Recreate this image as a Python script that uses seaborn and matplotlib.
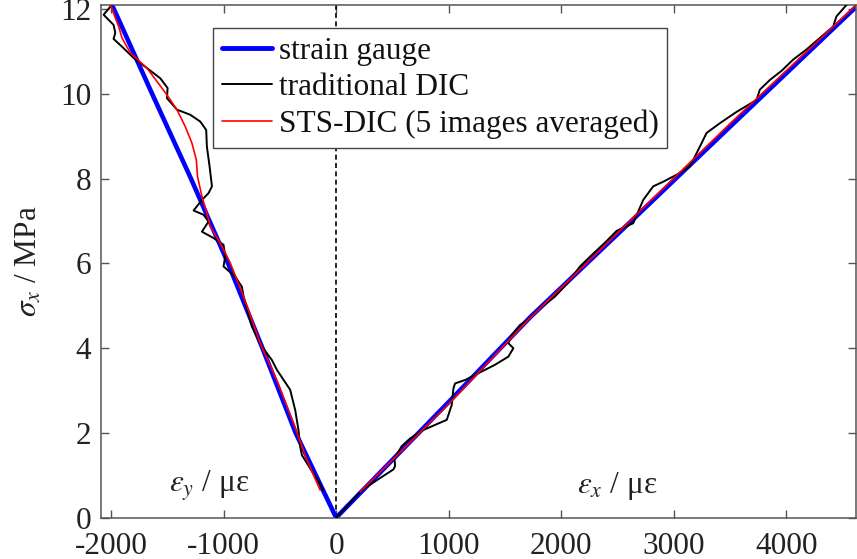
import matplotlib
matplotlib.use("Agg")
import matplotlib.pyplot as plt
import seaborn as sns
import pandas as pd
from matplotlib.lines import Line2D

# ---------------- data ----------------
# strain gauge
sg_left_eps = [0, -360, -655, -960, -1290, -1635, -2000]
sg_left_sig = [0, 2, 4, 6, 8, 10, 12.15]
sg_right_eps = [0, 1000, 1720, 2500, 3470, 4650]
sg_right_sig = [0, 2.73, 4.72, 6.69, 9.15, 12.13]

# traditional DIC
dic_left_eps = [-1992, -2067, -1978, -1963, -1978, -1889, -1800, -1681, -1563, -1498,
                -1504, -1415, -1297, -1208, -1155, -1149, -1125, -1104, -1134, -1193,
                -1267, -1179, -1134, -1193, -1090, -1001, -986, -1001, -897, -838,
                -823, -749, -660, -571, -527, -409, -364, -335, -320, -305, -186, -113]
dic_left_sig = [12.11, 11.87, 11.63, 11.44, 11.30, 11.08, 10.85, 10.61, 10.37, 10.14,
                9.90, 9.63, 9.51, 9.35, 9.15, 8.76, 8.29, 7.82, 7.66, 7.50,
                7.25, 7.15, 6.99, 6.75, 6.60, 6.44, 6.16, 5.93, 5.69, 5.45,
                5.22, 4.51, 4.04, 3.72, 3.49, 3.02, 2.54, 2.07, 1.68, 1.48, 0.97, 0.65]
dic_right_eps = [0, 228, 376, 509, 524, 518, 583, 657, 775, 879, 983, 1027, 1042, 1057,
                 1146, 1264, 1412, 1530, 1575, 1530, 1560, 1634, 1708, 1800, 1945, 2060,
                 2167, 2256, 2400, 2493, 2640, 2729, 2818, 2907, 3030, 3144, 3233, 3292,
                 3410, 3560, 3736, 3765, 3854, 3960, 4061, 4180, 4298, 4417, 4446, 4535, 4600]
dic_right_sig = [0, 0.65, 0.91, 1.14, 1.22, 1.40, 1.69, 1.87, 2.07, 2.19, 2.31, 2.66, 3.05, 3.17,
                 3.25, 3.41, 3.61, 3.80, 4.00, 4.12, 4.31, 4.55, 4.67, 4.92, 5.22, 5.55,
                 5.93, 6.16, 6.52, 6.77, 6.95, 7.50, 7.82, 7.93, 8.10, 8.29, 8.76, 9.08,
                 9.31, 9.58, 9.86, 10.10, 10.33, 10.55, 10.81, 11.05, 11.32, 11.59, 11.83, 12.10, 12.25]

# STS-DIC (5 images averaged)
sts_left_eps = [-2007, -1933, -1903, -1829, -1681, -1504, -1415, -1341, -1282, -1243, -1232,
                -1193, -1149, -1119, -1030, -941, -823, -675, -520, -379, -260, -142]
sts_left_sig = [12.11, 11.59, 11.32, 10.97, 10.61, 9.98, 9.63, 9.23, 8.84, 8.45, 8.05,
                7.58, 7.19, 6.87, 6.48, 6.01, 5.22, 4.12, 3.20, 2.23, 1.36, 0.65]
sts_right_eps = [213, 1000, 1708, 2500, 3500, 4630]
sts_right_sig = [0.61, 2.68, 4.67, 6.72, 9.30, 12.12]

x_ticks = [-2000, -1000, 0, 1000, 2000, 3000, 4000]
y_ticks = [0, 2, 4, 6, 8, 10, 12]
legend_labels = ["strain gauge", "traditional DIC", "STS-DIC (5 images averaged)"]

# ---------------- style ----------------
sns.set_theme(style="ticks")
plt.rcParams["font.family"] = ["Liberation Serif", "DejaVu Serif"]
plt.rcParams["mathtext.fontset"] = "stix"
plt.rcParams["axes.unicode_minus"] = False

FS = 22.5
BLUE = "#0000ff"
RED = "#ff0000"
BLACK = "#000000"
GRAY = "#555555"

fig = plt.figure(figsize=(8.57, 5.59), dpi=100)
ax = fig.add_axes([101 / 857, 41.3 / 559, 755 / 857, 512.7 / 559])

ax.axvline(0, color="black", ls=(0, (3, 2)), lw=1.2, zorder=1)

def draw(eps, sig, color, lw, z):
    df = pd.DataFrame({"eps": eps, "sig": sig})
    sns.lineplot(data=df, x="eps", y="sig", sort=False, estimator=None,
                 color=color, lw=lw, ax=ax, zorder=z)

draw(sg_left_eps, sg_left_sig, BLUE, 3.3, 2)
draw(sg_right_eps, sg_right_sig, BLUE, 3.3, 2)
draw(dic_left_eps, dic_left_sig, BLACK, 1.4, 3)
draw(dic_right_eps, dic_right_sig, BLACK, 1.4, 3)
draw(sts_left_eps, sts_left_sig, RED, 1.2, 4)
draw(sts_right_eps, sts_right_sig, RED, 1.2, 4)

ax.set_xlim(-2090, 4620)
ax.set_ylim(0, 12.1)
ax.set_xticks(x_ticks)
ax.set_yticks(y_ticks)
ax.set_xticklabels([f"{v:d}" for v in x_ticks])
ax.set_xlabel("")
ax.set_ylabel(r"$\sigma_x$ / MPa", fontsize=FS, color="#222222", labelpad=12)

ax.tick_params(axis="both", direction="in", length=6, width=1, color=GRAY,
               labelsize=FS, labelcolor="#222222", top=True, right=True)
ax.tick_params(axis="x", pad=10)
ax.tick_params(axis="y", pad=7)
for sp in ax.spines.values():
    sp.set_visible(True)
    sp.set_color(GRAY)
    sp.set_linewidth(1.1)

ax.text(-1490, 0.58, r"$\varepsilon_y$" + " / με", fontsize=FS, color="#222222",
        ha="left", va="baseline")
ax.text(2140, 0.58, r"$\varepsilon_x$" + " / με", fontsize=FS, color="#222222",
        ha="left", va="baseline")

handles = [Line2D([], [], color=BLUE, lw=3.5),
           Line2D([], [], color=BLACK, lw=1.4),
           Line2D([], [], color=RED, lw=1.2)]
leg = ax.legend(handles, legend_labels, loc="upper left",
                bbox_to_anchor=(0.1486, 0.9546), borderaxespad=0,
                fontsize=FS, frameon=True, fancybox=False, framealpha=1,
                handlelength=1.6, handletextpad=0.22, labelspacing=0.24,
                borderpad=0.27)
leg.get_frame().set_edgecolor("#444444")
leg.get_frame().set_linewidth(1.0)
for t in leg.get_texts():
    t.set_color("#111111")

fig.savefig("out.png", dpi=100)
